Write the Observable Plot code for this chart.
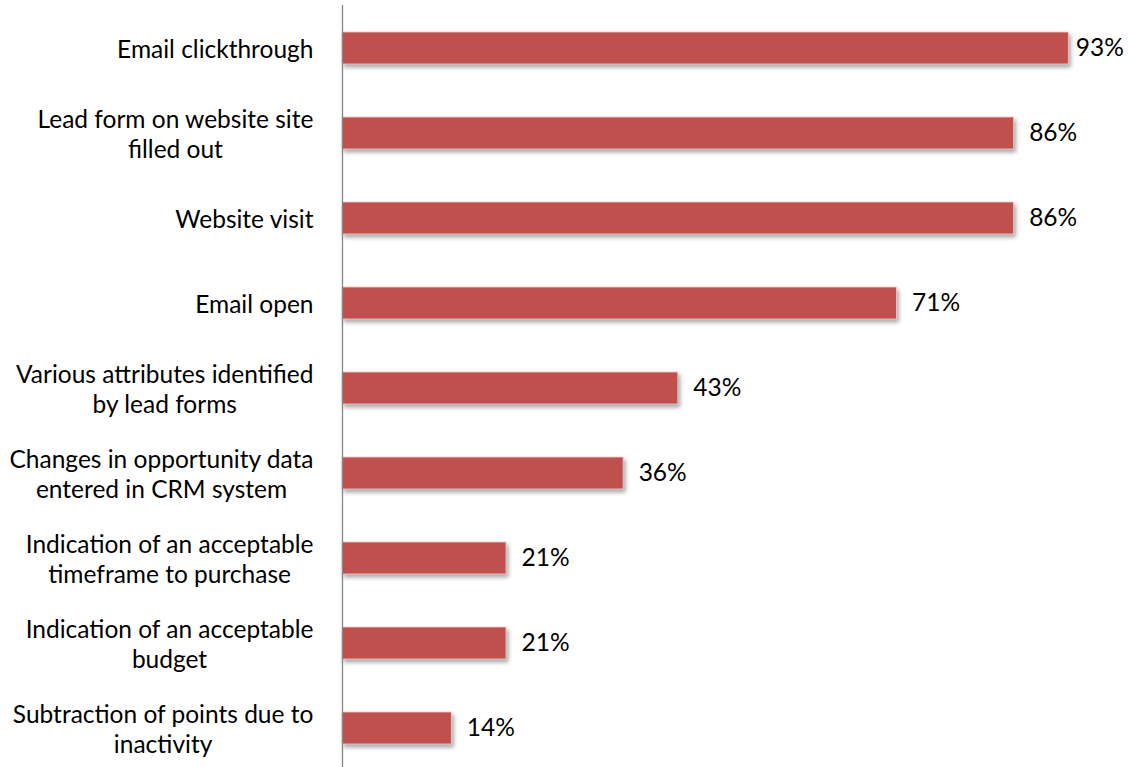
<!DOCTYPE html>
<html>
<head>
<meta charset="utf-8">
<script src="https://cdn.jsdelivr.net/npm/d3@7"></script>
<script src="https://cdn.jsdelivr.net/npm/@observablehq/plot@0.6"></script>
<style>
  html, body { margin: 0; padding: 0; background: #fff; overflow: hidden; }
  #chart svg g[aria-label="bar"] { filter: drop-shadow(2px 3px 2px rgba(0,0,0,0.35)); }
</style>
</head>
<body>
<div id="chart"></div>
<script>
const categories = [
  "Email clickthrough",
  "Lead form on website site\nfilled out",
  "Website visit",
  "Email open",
  "Various attributes identified\nby lead forms",
  "Changes in opportunity data\nentered in CRM system",
  "Indication of an acceptable\ntimeframe to purchase",
  "Indication of an acceptable\nbudget",
  "Subtraction of points due to\ninactivity"
];
const values = [93, 86, 86, 71, 43, 36, 21, 21, 14];

const data = categories.map((c, i) => ({cat: c, value: values[i]}));
const FONT = "Lato, 'Open Sans', sans-serif";
const FS = 24.5;

const chart = Plot.plot({
  width: 1128,
  height: 767,
  marginLeft: 342,
  marginRight: 5,
  marginTop: 5,
  marginBottom: -5,
  x: {domain: [0, 100], axis: null},
  y: {domain: categories, axis: null, paddingInner: 0.62, paddingOuter: 0.31},
  style: {fontFamily: FONT, fontSize: FS + "px", color: "#000", background: "#fff"},
  marks: [
    Plot.barX(data, {y: "cat", x: "value", fill: "#C0504D", stroke: "#f0d0cf", strokeWidth: 0.8}),
    Plot.ruleX([0], {stroke: "#868686", strokeWidth: 1.3}),
    Plot.text(data.filter(d => d.value < 90), {y: "cat", x: "value", text: d => d.value + "%", textAnchor: "start", dx: 15, fontSize: FS, fill: "#000"}),
    Plot.text(data.filter(d => d.value >= 90), {y: "cat", x: "value", text: d => d.value + "%", textAnchor: "start", dx: 7, fontSize: FS, fill: "#000"}),
    Plot.text(data, {y: "cat", frameAnchor: "left", text: "cat", textAnchor: "end", dx: -29, lineHeight: 1.22, fontSize: FS, fill: "#000"})
  ]
});
document.getElementById("chart").appendChild(chart);

// center multi-line category labels within their right-aligned block
const groups = chart.querySelectorAll('g[aria-label="text"]');
const labelGroup = groups[groups.length - 1];
labelGroup.querySelectorAll("text").forEach(t => {
  const spans = t.querySelectorAll("tspan");
  if (spans.length > 1) {
    const w = t.getBBox().width;
    t.setAttribute("text-anchor", "middle");
    spans.forEach(s => s.setAttribute("x", -w / 2));
  }
});
</script>
</body>
</html>
